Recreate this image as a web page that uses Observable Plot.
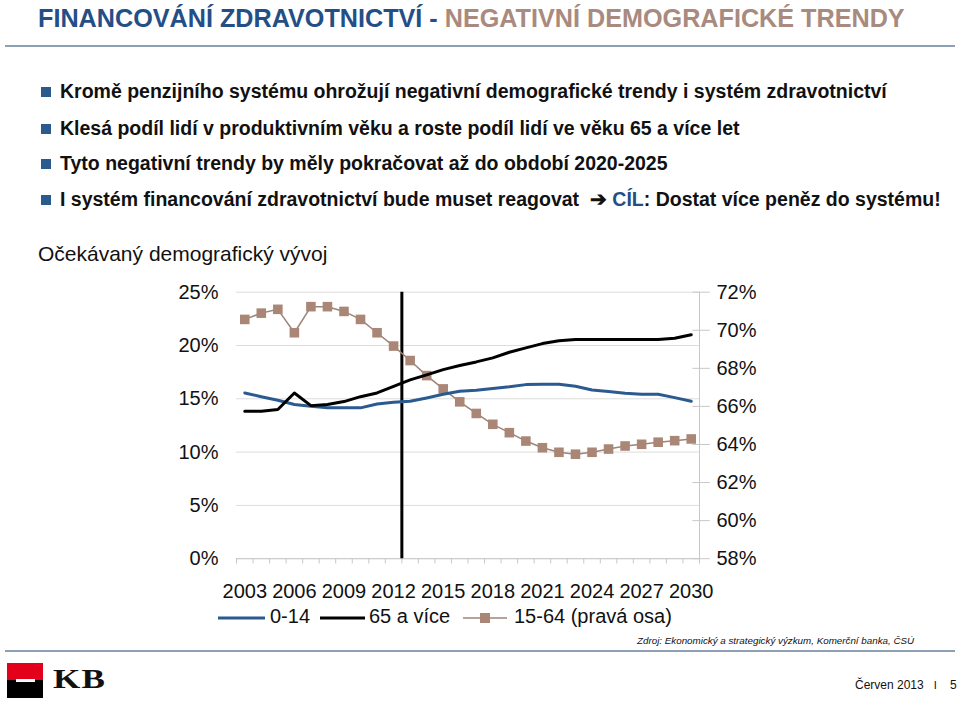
<!DOCTYPE html>
<html><head><meta charset="utf-8">
<script src="https://cdn.jsdelivr.net/npm/d3@7"></script>
<script src="https://cdn.jsdelivr.net/npm/@observablehq/plot@0.6"></script>
<style>
body{margin:0;width:959px;height:701px;background:#fff;position:relative;overflow:hidden;font-family:"Liberation Sans",Arial,sans-serif;}
.abs{position:absolute;white-space:nowrap;}
.title{left:38px;top:4px;font-size:25.2px;font-weight:bold;}
.hr{position:absolute;left:5px;width:950px;height:2px;background:#8ea0b5;}
.bul{left:41px;font-size:19.5px;font-weight:bold;color:#111;}
.bul .sq{display:inline-block;width:10px;height:10px;background:#2b5a8c;margin-right:9px;vertical-align:1px;}
.legtxt{font-size:20px;color:#111;top:605px;}
</style></head><body>
<div class="abs title"><span style="color:#244e86">FINANCOVÁNÍ ZDRAVOTNICTVÍ - </span><span style="color:#a88a7e">NEGATIVNÍ DEMOGRAFICKÉ TRENDY</span></div>
<div class="hr" style="top:45px"></div>
<div class="abs bul" style="top:80px"><span class="sq"></span>Kromě penzijního systému ohrožují negativní demografické trendy i systém zdravotnictví</div>
<div class="abs bul" style="top:117px"><span class="sq"></span>Klesá podíl lidí v produktivním věku a roste podíl lidí ve věku 65 a více let</div>
<div class="abs bul" style="top:152px"><span class="sq"></span>Tyto negativní trendy by měly pokračovat až do období 2020-2025</div>
<div class="abs bul" style="top:188px"><span class="sq"></span>I systém financování zdravotnictví bude muset reagovat &nbsp;➔ <span style="color:#244e86">CÍL</span>: Dostat více peněz do systému!</div>
<div class="abs" style="left:38px;top:242px;font-size:21px;color:#111">Očekávaný demografický vývoj</div>
<div id="chart" class="abs" style="left:0;top:270px"></div>
<div id="legend"></div>
<div class="abs" style="left:637px;top:635px;font-size:9.8px;font-style:italic;color:#111">Zdroj: Ekonomický a strategický výzkum, Komerční banka, ČSÚ</div>
<div class="hr" style="top:650px"></div>
<div class="abs" style="left:7px;top:663px;width:36px;height:17px;background:#e2001a"></div>
<div class="abs" style="left:7px;top:680px;width:36px;height:18px;background:#000"></div>
<div class="abs" style="left:16px;top:679px;width:19px;height:3px;background:#fff"></div>
<div class="abs" style="left:53px;top:664px;font-family:'Liberation Serif',serif;font-weight:bold;font-size:27px;color:#111;transform:scaleX(1.3);transform-origin:left;letter-spacing:1px">KB</div>
<div class="abs" style="left:855px;top:678px;font-size:12px;color:#111">Červen 2013 &nbsp;&nbsp;<span style="font-size:11px">I</span>&nbsp;&nbsp;&nbsp; 5</div>
<script>
const years = d3.range(2003, 2031);
const kids = [15.55,15.2,14.86,14.46,14.3,14.17,14.15,14.15,14.52,14.67,14.77,15.08,15.42,15.7,15.8,15.96,16.12,16.33,16.36,16.36,16.17,15.83,15.68,15.52,15.42,15.42,15.11,14.77];
const seniors = [13.83,13.83,13.99,15.55,14.36,14.46,14.74,15.2,15.55,16.17,16.77,17.24,17.74,18.12,18.46,18.84,19.37,19.78,20.18,20.44,20.56,20.56,20.56,20.56,20.56,20.56,20.68,21.0];
const working = [70.57,70.9,71.1,69.87,71.24,71.24,70.99,70.57,69.87,69.17,68.41,67.62,66.92,66.24,65.63,65.06,64.62,64.18,63.83,63.59,63.49,63.59,63.76,63.92,64.01,64.12,64.2,64.29];
const leftTicks = [0,5,10,15,20,25];
const rightTicks = [58,60,62,64,66,68,70,72];
const xLabels = [2003,2006,2009,2012,2015,2018,2021,2024,2027,2030];
const divider = 2012.5;
const seriesNames = ["0-14", "65 a více", "15-64 (pravá osa)"];

const toLeft = v => (v - 58) * 25 / 14;
const rows = years.map((y,i)=>({year:y, kids:kids[i], seniors:seniors[i], working:toLeft(working[i])}));
const bounds = d3.range(2002.5, 2031, 1);
const blue = "#2a5a8f", brown = "#a98676", brownLine = "#9d8378";

const chart = Plot.plot({
  width: 959, height: 340,
  marginLeft: 236, marginRight: 260, marginTop: 21.7, marginBottom: 51.8,
  x: {domain: [2002.5, 2030.5]},
  y: {domain: [0, 25]},
  style: {fontFamily: "'Liberation Sans', Arial, sans-serif", fontSize: "20px", color: "#111", background: "transparent", overflow: "visible"},
  marks: [
    Plot.ruleY(leftTicks, {stroke: "#dcdcdc", strokeWidth: 1}),
    Plot.ruleY([0], {stroke: "#c8c8c8"}),
    Plot.ruleX(bounds, {y1: 0, y2: -0.5, stroke: "#c8c8c8"}),
    Plot.ruleX([2030.5], {y1: 0, y2: 25, stroke: "#c8c8c8"}),
    Plot.ruleY(rightTicks.map(toLeft), {x1: 2030.1, x2: 2031.15, stroke: "#c8c8c8"}),
    Plot.axisY(leftTicks, {anchor: "left", tickSize: 0, tickPadding: 18, tickFormat: d => d + "%", fontSize: 20, label: null}),
    Plot.axisY(rightTicks.map(toLeft), {anchor: "right", tickSize: 0, tickPadding: 17, tickFormat: d => Math.round(d * 14 / 25 + 58) + "%", fontSize: 20, label: null}),
    Plot.axisX(xLabels, {anchor: "bottom", tickSize: 0, tickPadding: 25, tickFormat: d => String(d), fontSize: 20, label: null}),
    Plot.ruleX([divider], {y1: 0, y2: 25, stroke: "#000", strokeWidth: 3}),
    Plot.line(rows, {x: "year", y: "working", stroke: brownLine, strokeWidth: 1.5}),
    Plot.dot(rows, {x: "year", y: "working", symbol: "square", r: 5.4, fill: brown, stroke: "none"}),
    Plot.line(rows, {x: "year", y: "kids", stroke: blue, strokeWidth: 3}),
    Plot.line(rows, {x: "year", y: "seniors", stroke: "#000", strokeWidth: 3})
  ]
});
document.getElementById("chart").appendChild(chart);

const legendItems = [
  {label: seriesNames[0], color: blue, w: 3, sq: false, x1: 218, x2: 265, tx: 270},
  {label: seriesNames[1], color: "#000", w: 3, sq: false, x1: 320, x2: 365, tx: 369},
  {label: seriesNames[2], color: brownLine, w: 1.5, sq: true, x1: 463, x2: 507, tx: 514}
];
const leg = document.getElementById("legend");
legendItems.forEach(it => {
  const s = d3.create("svg").attr("width", it.x2 - it.x1).attr("height", 20)
    .style("position", "absolute").style("left", it.x1 + "px").style("top", "608px");
  s.append("line").attr("x1", 0).attr("x2", it.x2 - it.x1).attr("y1", 10).attr("y2", 10).attr("stroke", it.color).attr("stroke-width", it.w);
  if (it.sq) s.append("rect").attr("x", (it.x2 - it.x1) / 2 - 5).attr("y", 5).attr("width", 10).attr("height", 10).attr("fill", brown);
  leg.appendChild(s.node());
  const t = document.createElement("div"); t.className = "abs legtxt"; t.style.left = it.tx + "px"; t.textContent = it.label; leg.appendChild(t);
});
</script>
</body></html>
